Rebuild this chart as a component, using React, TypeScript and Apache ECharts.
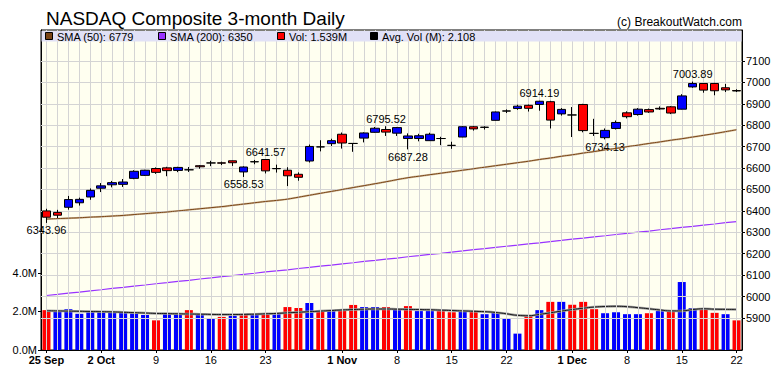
import React, { useEffect, useRef } from 'react';
import * as echarts from 'echarts';

const categories = [
  '25 Sep', '26 Sep', '27 Sep', '28 Sep', '29 Sep',
  '2 Oct', '3 Oct', '4 Oct', '5 Oct', '6 Oct',
  '9 Oct', '10 Oct', '11 Oct', '12 Oct', '13 Oct',
  '16 Oct', '17 Oct', '18 Oct', '19 Oct', '20 Oct',
  '23 Oct', '24 Oct', '25 Oct', '26 Oct', '27 Oct',
  '30 Oct', '31 Oct', '1 Nov', '2 Nov', '3 Nov',
  '6 Nov', '7 Nov', '8 Nov', '9 Nov', '10 Nov',
  '13 Nov', '14 Nov', '15 Nov', '16 Nov', '17 Nov',
  '20 Nov', '21 Nov', '22 Nov', '24 Nov',
  '27 Nov', '28 Nov', '29 Nov', '30 Nov', '1 Dec',
  '4 Dec', '5 Dec', '6 Dec', '7 Dec', '8 Dec',
  '11 Dec', '12 Dec', '13 Dec', '14 Dec', '15 Dec',
  '18 Dec', '19 Dec', '20 Dec', '21 Dec', '22 Dec',
];

// [open, close, low, high]
const ohlc = [
  [6400, 6370.59, 6343.96, 6410], [6393, 6380, 6366, 6405], [6417, 6453, 6406, 6470], [6438, 6454, 6425, 6462], [6465, 6496, 6452, 6505],
  [6506, 6517, 6488, 6530], [6522, 6532, 6510, 6540], [6524, 6535, 6512, 6549], [6552, 6585, 6548, 6590], [6566, 6590, 6563, 6592],
  [6598, 6580, 6573, 6603], [6601, 6588, 6562, 6606], [6589, 6603, 6581, 6606], [6592, 6592, 6582, 6605], [6611, 6606, 6597, 6614],
  [6624, 6624, 6609, 6634], [6624.5, 6623, 6614, 6630], [6634, 6625, 6610, 6635], [6582, 6605, 6558.53, 6608], [6630, 6629, 6618, 6638],
  [6640, 6587, 6575, 6641.57], [6597, 6598, 6579, 6616], [6590, 6564, 6516, 6604], [6571, 6557, 6541, 6580], [6633, 6701, 6626, 6710],
  [6699, 6699, 6678, 6730], [6714, 6728, 6703, 6737], [6758, 6717, 6691, 6766], [6715, 6715, 6676, 6717], [6740, 6764, 6720, 6767],
  [6767, 6786, 6765, 6792], [6780, 6768, 6750, 6795.52], [6763, 6789, 6750, 6792], [6738, 6750, 6687.28, 6762], [6738, 6751, 6725, 6760],
  [6728, 6758, 6727, 6765], [6738, 6738, 6707, 6746], [6706, 6706, 6690, 6723], [6745, 6793, 6744, 6796], [6793, 6783, 6775, 6797],
  [6790, 6791, 6780, 6795], [6823, 6862, 6822, 6864], [6866, 6867, 6857, 6874], [6878, 6889, 6872, 6896],
  [6893, 6879, 6864, 6897], [6897, 6912, 6868, 6914.19], [6910, 6824, 6785, 6914], [6853, 6874, 6845, 6880], [6848, 6848, 6745, 6885],
  [6897, 6775, 6767, 6900], [6762, 6762, 6750, 6830], [6742, 6776, 6734.13, 6785], [6785, 6813, 6780, 6822], [6858, 6840, 6832, 6865],
  [6850, 6875, 6845, 6880], [6873, 6862, 6858, 6878], [6879, 6876, 6872, 6888], [6886, 6857, 6852, 6890], [6875, 6937, 6874, 6945],
  [6979, 6995, 6975, 7003.89], [6995, 6964, 6952, 6997], [6995, 6961, 6940, 6998], [6975, 6965, 6955, 6993], [6962, 6960, 6955, 6968],
];

// volume in millions
const volumes = [
  2.07, 2.0, 2.12, 1.88, 2.02, 2.02, 2.02, 1.98, 1.93, 1.82,
  1.54, 1.86, 1.86, 2.07, 1.82, 1.65, 1.72, 1.77, 1.86, 1.86,
  1.86, 1.86, 2.23, 2.18, 2.44, 2.05, 2.07, 2.12, 2.34, 2.23,
  2.23, 2.23, 2.16, 2.28, 2.02, 2.02, 2.02, 1.96, 2.05, 2.04,
  1.86, 1.93, 1.65, 0.85, 1.81, 2.07, 2.5, 2.5, 2.35, 2.5,
  2.12, 1.91, 1.96, 1.86, 1.86, 1.91, 2.02, 2.02, 3.53, 2.18,
  2.18, 1.93, 1.86, 1.539,
];

const avgVolume = [
  2.04, 2.03, 2.02, 2.01, 2.0, 1.99, 1.98, 1.96, 1.94, 1.92,
  1.9, 1.89, 1.88, 1.87, 1.86, 1.85, 1.84, 1.84, 1.85, 1.86,
  1.88, 1.9, 1.93, 1.96, 1.99, 2.02, 2.05, 2.08, 2.1, 2.12,
  2.13, 2.13, 2.12, 2.11, 2.1, 2.09, 2.07, 2.05, 2.03, 2.01,
  1.99, 1.95, 1.88, 1.8, 1.78, 1.85, 1.93, 2.02, 2.1, 2.17,
  2.23, 2.26, 2.27, 2.25, 2.2, 2.14, 2.08, 2.03, 2.03, 2.1,
  2.14, 2.12, 2.11, 2.108,
];

const sma50 = [
  6362, 6364, 6366, 6368, 6371, 6373, 6376, 6379, 6383, 6387,
  6391, 6395, 6400, 6405, 6410, 6415, 6420, 6426, 6432, 6438,
  6444, 6449, 6455, 6464, 6473, 6482, 6491, 6500, 6509, 6518,
  6527, 6536, 6546, 6555, 6562, 6569, 6576, 6583, 6590, 6597,
  6604, 6611, 6618, 6625, 6632, 6640, 6647, 6655, 6662, 6670,
  6677, 6685, 6692, 6700, 6707, 6715, 6722, 6730, 6737, 6745,
  6753, 6761, 6770, 6779,
];

const sma200 = [
  6005, 6010, 6016, 6021, 6027, 6032, 6038, 6043, 6049, 6054,
  6060, 6065, 6071, 6076, 6082, 6087, 6093, 6098, 6104, 6109,
  6115, 6120, 6125, 6131, 6136, 6142, 6147, 6153, 6158, 6164,
  6169, 6175, 6180, 6186, 6191, 6197, 6202, 6208, 6213, 6219,
  6224, 6230, 6235, 6240, 6246, 6251, 6257, 6262, 6268, 6273,
  6279, 6284, 6290, 6295, 6301, 6306, 6312, 6317, 6323, 6328,
  6334, 6339, 6345, 6350,
];

const priceTicks = [5900, 6000, 6100, 6200, 6300, 6400, 6500, 6600, 6700, 6800, 6900, 7000, 7100];
const volumeTicks = [0, 2, 4];

const tickDates = ['25 Sep', '2 Oct', '9 Oct', '16 Oct', '23 Oct', '1 Nov', '8 Nov', '15 Nov', '22 Nov', '1 Dec', '8 Dec', '15 Dec', '22 Dec'];
const tickLabels = ['25 Sep', '2 Oct', '9', '16', '23', '1 Nov', '8', '15', '22', '1 Dec', '8', '15', '22'];
const tickBold = [true, true, false, false, false, true, false, false, false, true, false, false, false];

const annotations = [
  { date: '25 Sep', value: 6343.96, side: 'bottom' },
  { date: '19 Oct', value: 6558.53, side: 'bottom' },
  { date: '23 Oct', value: 6641.57, side: 'top' },
  { date: '7 Nov', value: 6795.52, side: 'top' },
  { date: '9 Nov', value: 6687.28, side: 'bottom' },
  { date: '28 Nov', value: 6914.19, side: 'top' },
  { date: '6 Dec', value: 6734.13, side: 'bottom' },
  { date: '18 Dec', value: 7003.89, side: 'top' },
];

const FONT = '"Liberation Sans", Arial, Helvetica, sans-serif';
const UP = '#0000FF';
const DOWN = '#FF0000';

export default function App() {
  const ref = useRef<HTMLDivElement>(null);

  useEffect(() => {
    const chart = echarts.init(ref.current as HTMLDivElement, null, { renderer: 'svg' });
    const isTick = (_i: number, v: string) => tickDates.indexOf(v) >= 0;
    const last = categories.length - 1;

    const volData = volumes.map((v, i) => {
      const down = i === 0 ? ohlc[i][1] < ohlc[i][0] : ohlc[i][1] < ohlc[i - 1][1];
      return { value: v, itemStyle: { color: down ? DOWN : UP } };
    });

    const legendItems = [
      { x: 45, color: '#7a4516', text: `SMA (50): ${sma50[last]}` },
      { x: 158, color: '#9933ff', text: `SMA (200): ${sma200[last]}` },
      { x: 277, color: '#ff0000', text: `Vol: ${volumes[last].toFixed(3)}M` },
      { x: 370, color: '#000000', text: `Avg. Vol (M): ${avgVolume[last].toFixed(3)}` },
    ];

    const graphics: any[] = [
      {
        type: 'text', x: 46, y: 18, z: 20,
        style: { text: 'NASDAQ Composite 3-month Daily', font: `19px ${FONT}`, fill: '#000', textVerticalAlign: 'middle' },
      },
      {
        type: 'text', x: 742, y: 22, z: 20,
        style: { text: '(c) BreakoutWatch.com', font: `12px ${FONT}`, fill: '#000', textAlign: 'right', textVerticalAlign: 'middle' },
      },
      {
        type: 'rect', z: 20, shape: { x: 41.5, y: 31, width: 700, height: 10.5 },
        style: { fill: '#E1E1F6' },
      },
    ];
    legendItems.forEach((it) => {
      graphics.push({
        type: 'rect', z: 21, shape: { x: it.x + 0.5, y: 32.5, width: 7, height: 7 },
        style: { fill: it.color, stroke: '#000', lineWidth: 1 },
      });
      graphics.push({
        type: 'text', x: it.x + 12, y: 36.5, z: 21,
        style: { text: it.text, font: `11px ${FONT}`, fill: '#000', textVerticalAlign: 'middle' },
      });
    });

    const option: any = {
      animation: false,
      backgroundColor: '#ffffff',
      textStyle: { fontFamily: FONT },
      grid: {
        left: 41, right: 38, top: 30, bottom: 26,
        show: true, backgroundColor: '#FFFFF0', borderColor: '#000', borderWidth: 1,
        containLabel: false,
      },
      xAxis: [{
        type: 'category',
        data: categories,
        boundaryGap: true,
        axisLine: { show: true, lineStyle: { color: '#000', width: 1 } },
        axisTick: { show: true, alignWithLabel: true, interval: isTick, length: 3, lineStyle: { color: '#000' } },
        axisLabel: {
          interval: isTick,
          margin: 4,
          color: '#000',
          fontSize: 11,
          fontFamily: FONT,
          formatter: (v: string) => {
            const k = tickDates.indexOf(v);
            if (k < 0) return '';
            return tickBold[k] ? `{b|${tickLabels[k]}}` : tickLabels[k];
          },
          rich: { b: { fontWeight: 'bold', fontSize: 11, fontFamily: FONT, color: '#000' } },
        },
        splitLine: { show: false },
      }],
      yAxis: [
        {
          type: 'value',
          position: 'left',
          min: 0,
          max: 16.62,
          axisLine: { show: true, lineStyle: { color: '#000' } },
          axisTick: { show: true, length: 3, customValues: volumeTicks, lineStyle: { color: '#000' } },
          axisLabel: {
            customValues: volumeTicks, margin: 4, color: '#000', fontSize: 11, fontFamily: FONT,
            formatter: (v: number) => `${v.toFixed(1)}M`,
          },
          splitLine: { show: false },
        },
        {
          type: 'value',
          position: 'right',
          min: 5750.6,
          max: 7244.7,
          axisLine: { show: true, lineStyle: { color: '#000' } },
          axisTick: { show: true, length: 3, customValues: priceTicks, lineStyle: { color: '#000' } },
          axisLabel: {
            customValues: priceTicks, margin: 4, color: '#000', fontSize: 11, fontFamily: FONT,
            formatter: (v: number) => String(v),
          },
          splitLine: { show: false },
        },
      ],
      series: [
        {
          name: 'grid',
          type: 'line',
          xAxisIndex: 0,
          yAxisIndex: 1,
          data: sma200,
          symbol: 'none',
          silent: true,
          z: 1,
          lineStyle: { opacity: 0 },
          markLine: {
            silent: true,
            symbol: ['none', 'none'],
            label: { show: false },
            lineStyle: { color: '#d4d4d4', width: 1, type: 'solid' },
            emphasis: { disabled: true },
            data: [
              ...categories.map((c) => ({ xAxis: c })),
              ...priceTicks.map((v) => ({ yAxis: v })),
            ],
          },
        },
        {
          name: 'Vol',
          type: 'bar',
          xAxisIndex: 0,
          yAxisIndex: 0,
          barWidth: 8,
          z: 2,
          data: volData,
        },
        {
          name: 'AvgVolShadow',
          type: 'line',
          xAxisIndex: 0,
          yAxisIndex: 0,
          data: avgVolume,
          symbol: 'none',
          smooth: true,
          z: 3,
          lineStyle: { color: '#a0a0a0', width: 2.5 },
        },
        {
          name: 'AvgVol',
          type: 'line',
          xAxisIndex: 0,
          yAxisIndex: 0,
          data: avgVolume,
          symbol: 'none',
          smooth: true,
          z: 4,
          lineStyle: { color: '#1a1a1a', width: 1 },
        },
        {
          name: 'SMA200',
          type: 'line',
          xAxisIndex: 0,
          yAxisIndex: 1,
          data: sma200,
          symbol: 'none',
          z: 4,
          lineStyle: { color: '#9933ff', width: 1.2 },
        },
        {
          name: 'SMA50Shadow',
          type: 'line',
          xAxisIndex: 0,
          yAxisIndex: 1,
          data: sma50,
          symbol: 'none',
          smooth: true,
          z: 4,
          lineStyle: { color: '#d5c3a6', width: 2 },
        },
        {
          name: 'SMA50',
          type: 'line',
          xAxisIndex: 0,
          yAxisIndex: 1,
          data: sma50,
          symbol: 'none',
          smooth: true,
          z: 5,
          lineStyle: { color: '#7a4516', width: 1 },
        },
        {
          name: 'Price',
          type: 'candlestick',
          xAxisIndex: 0,
          yAxisIndex: 1,
          barWidth: 9,
          z: 6,
          data: ohlc,
          itemStyle: {
            color: UP,
            color0: DOWN,
            borderColor: '#000',
            borderColor0: '#000',
            borderColorDoji: '#000',
            borderWidth: 1,
          },
          markPoint: {
            symbol: 'circle',
            symbolSize: 0,
            silent: true,
            itemStyle: { color: 'rgba(0,0,0,0)' },
            data: annotations.map((a) => ({
              coord: [a.date, a.value],
              value: a.value,
              label: {
                show: true,
                position: a.side,
                distance: 2,
                color: '#000',
                fontSize: 11,
                fontFamily: FONT,
                formatter: () => a.value.toFixed(2),
              },
            })),
          },
        },
      ],
      graphic: graphics,
    };

    chart.setOption(option);
    return () => chart.dispose();
  }, []);

  return (
    <div
      ref={ref}
      style={{ position: 'absolute', left: 0, top: 0, width: 780, height: 376 }}
    />
  );
}
